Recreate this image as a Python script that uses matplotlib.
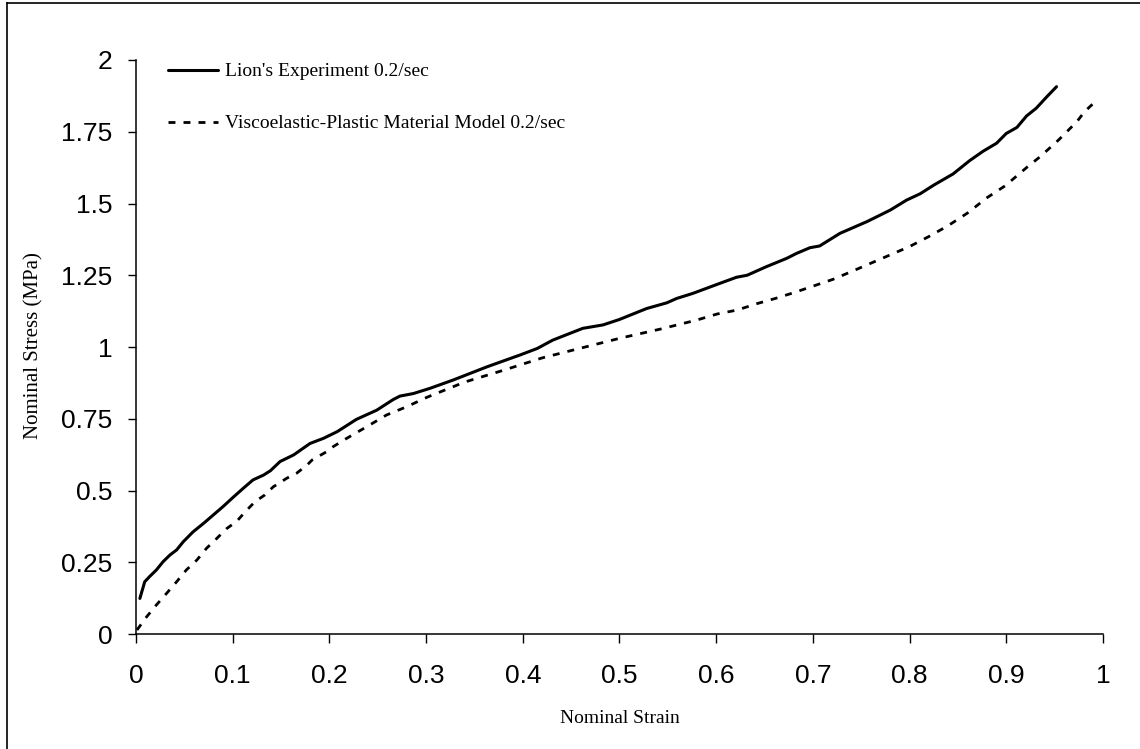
import matplotlib
matplotlib.use("Agg")
import matplotlib.pyplot as plt
from matplotlib.lines import Line2D

# Lion's experiment at 0.2/sec (solid)
strain_exp = [0.004, 0.009, 0.014, 0.021, 0.028, 0.035, 0.042, 0.049, 0.059, 0.070,
              0.080, 0.090, 0.101, 0.111, 0.121, 0.132, 0.139, 0.149, 0.163, 0.180,
              0.194, 0.208, 0.228, 0.249, 0.266, 0.273, 0.287, 0.304, 0.328, 0.363,
              0.397, 0.415, 0.431, 0.462, 0.483, 0.500, 0.528, 0.549, 0.559, 0.576,
              0.604, 0.621, 0.632, 0.652, 0.673, 0.683, 0.697, 0.707, 0.728, 0.756,
              0.780, 0.797, 0.811, 0.825, 0.845, 0.862, 0.876, 0.890, 0.900, 0.911,
              0.921, 0.931, 0.942, 0.952]
stress_exp = [0.124, 0.182, 0.200, 0.223, 0.252, 0.275, 0.293, 0.322, 0.356, 0.386,
              0.415, 0.444, 0.478, 0.508, 0.537, 0.554, 0.569, 0.601, 0.624, 0.664,
              0.682, 0.705, 0.748, 0.780, 0.817, 0.829, 0.838, 0.856, 0.885, 0.931,
              0.972, 0.995, 1.024, 1.065, 1.077, 1.096, 1.134, 1.154, 1.169, 1.187,
              1.222, 1.243, 1.250, 1.280, 1.309, 1.326, 1.346, 1.352, 1.396, 1.437,
              1.477, 1.512, 1.534, 1.564, 1.603, 1.649, 1.682, 1.710, 1.744, 1.765,
              1.805, 1.832, 1.872, 1.907]

# viscoelastic-plastic model at 0.2/sec (dashed)
strain_mod = [0.001, 0.011, 0.021, 0.033, 0.042, 0.052, 0.063, 0.073, 0.082, 0.094,
              0.104, 0.113, 0.123, 0.133, 0.142, 0.156, 0.166, 0.177, 0.182, 0.197,
              0.204, 0.218, 0.239, 0.259, 0.280, 0.301, 0.340, 0.381, 0.420, 0.461,
              0.501, 0.543, 0.580, 0.601, 0.622, 0.641, 0.661, 0.680, 0.701, 0.721,
              0.740, 0.760, 0.780, 0.800, 0.820, 0.840, 0.860, 0.880, 0.899, 0.914,
              0.922, 0.935, 0.954, 0.973, 0.981, 0.993]
stress_mod = [0.014, 0.060, 0.101, 0.147, 0.182, 0.223, 0.258, 0.299, 0.328, 0.368,
              0.392, 0.426, 0.461, 0.484, 0.513, 0.543, 0.560, 0.589, 0.606, 0.635,
              0.653, 0.682, 0.723, 0.763, 0.792, 0.825, 0.878, 0.920, 0.962, 0.997,
              1.031, 1.063, 1.094, 1.115, 1.129, 1.150, 1.169, 1.189, 1.213, 1.236,
              1.263, 1.292, 1.321, 1.350, 1.385, 1.423, 1.467, 1.520, 1.562, 1.605,
              1.628, 1.663, 1.721, 1.785, 1.820, 1.858]

x_ticks = [0, 0.1, 0.2, 0.3, 0.4, 0.5, 0.6, 0.7, 0.8, 0.9, 1]
x_tick_labels = ["0", "0.1", "0.2", "0.3", "0.4", "0.5", "0.6", "0.7", "0.8", "0.9", "1"]
y_ticks = [0, 0.25, 0.5, 0.75, 1, 1.25, 1.5, 1.75, 2]
y_tick_labels = ["0", "0.25", "0.5", "0.75", "1", "1.25", "1.5", "1.75", "2"]

fig = plt.figure(figsize=(11.4, 7.49), dpi=100)
ax = fig.add_axes([0.1193, 0.1535, 0.8482, 0.7664])

ax.plot(strain_exp, stress_exp, color="black", lw=2.2, solid_capstyle="round",
        label="Lion's Experiment 0.2/sec")
ax.plot(strain_mod, stress_mod, color="black", lw=2.0, ls=(0, (2.5, 2.9)),
        label="Viscoelastic-Plastic Material Model 0.2/sec")

ax.set_xlim(0, 1)
ax.set_ylim(0, 2)
ax.set_xticks(x_ticks)
ax.set_xticklabels(x_tick_labels)
ax.set_yticks(y_ticks)
ax.set_yticklabels(y_tick_labels)

for side in ("top", "right"):
    ax.spines[side].set_visible(False)
for side in ("left", "bottom"):
    ax.spines[side].set_linewidth(1.1)

ax.tick_params(axis="x", direction="out", length=6.5, width=1, pad=15,
               labelsize=19)
ax.tick_params(axis="y", direction="out", length=6, width=1, pad=11,
               labelsize=19)
for lbl in ax.get_xticklabels() + ax.get_yticklabels():
    lbl.set_family("Liberation Sans")

ax.set_xlabel("Nominal Strain", family="Liberation Serif", fontsize=14, va="center")
ax.set_ylabel("Nominal Stress (MPa)", family="Liberation Serif", fontsize=15, va="center")
ax.xaxis.set_label_coords(0.5, -0.148)
ax.yaxis.set_label_coords(-0.106, 0.502)

ax.legend(loc="upper left", bbox_to_anchor=(0.033, 0.995), frameon=False,
          prop={"family": "Liberation Serif", "size": 14},
          handlelength=2.57, handletextpad=0.36, labelspacing=1.76,
          borderpad=0, borderaxespad=0)

# thin frame round the chart area (left and top edges)
fig.add_artist(Line2D([7 / 1140, 7 / 1140], [0, 1 - 3 / 749], color="black", lw=1.2,
                      transform=fig.transFigure))
fig.add_artist(Line2D([7 / 1140, 1], [1 - 3 / 749, 1 - 3 / 749], color="black", lw=1.2,
                      transform=fig.transFigure))

fig.savefig("out.png", dpi=100)
